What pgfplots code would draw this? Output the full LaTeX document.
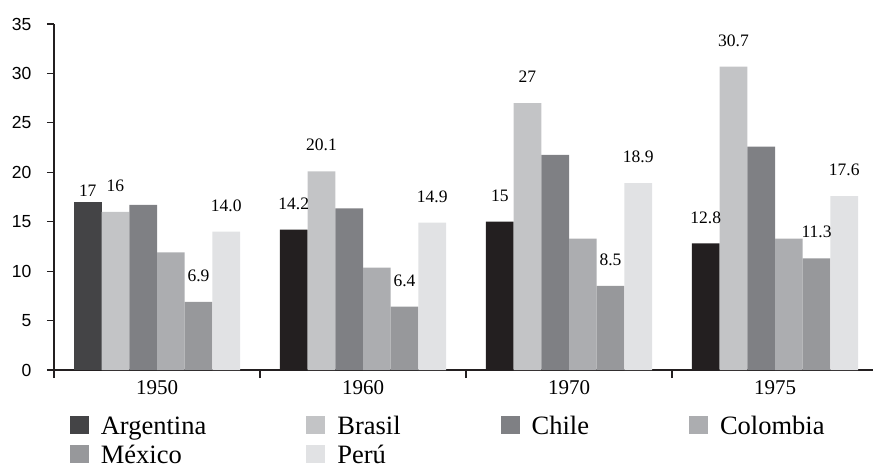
\documentclass[border=0pt]{standalone}
\usepackage{fontspec}
\setmainfont{Liberation Serif}
\newfontfamily\ticksans{Liberation Sans}
\usepackage{pgfplots}
\pgfplotsset{compat=1.18}

\definecolor{argA}{HTML}{444446}
\definecolor{argB}{HTML}{231F20}
\definecolor{bra}{HTML}{C3C4C6}
\definecolor{chi}{HTML}{7F8084}
\definecolor{col}{HTML}{ACADB0}
\definecolor{mex}{HTML}{97989B}
\definecolor{per}{HTML}{E1E2E4}
\definecolor{axisc}{HTML}{231F20}

\begin{document}
\begin{tikzpicture}
\useasboundingbox (-54pt,-96pt) rectangle (819pt,370pt);
\begin{axis}[
    scale only axis,
    width=824pt, height=346pt,
    xmin=-0.5, xmax=3.5,
    ymin=0, ymax=35,
    ybar, bar width=27.7pt,
    axis x line*=bottom, axis y line*=left,
    axis line style={draw=axisc, line width=1.4pt, -},
    xtick={0,1,2,3},
    xticklabels={1950,1960,1970,1975},
    minor xtick={-0.5,0.5,1.5,2.5,3.5},
    ytick={0,5,10,15,20,25,30,35},
    yticklabels={0,5,10,15,20,25,30,35},
    tick align=outside,
    major tick length=7pt, minor tick length=8pt,
    tick style={draw=axisc, line width=1.2pt},
    major x tick style={draw=none},
    ytick style={draw=axisc, line width=1.2pt},
    x tick label style={font=\fontsize{21}{21}\selectfont},
    y tick label style={font=\ticksans\fontsize{17.5}{17.5}\selectfont, xshift=-12pt},
    clip=false,
    every node near coord/.append style={font=\fontsize{17.5}{17.5}\selectfont, anchor=south, inner sep=0pt, yshift=20pt},
    legend columns=4,
    legend cell align=left,
    legend image code/.code={\fill[#1] (0pt,-8pt) rectangle (19pt,10pt);},
    legend style={draw=none, fill=none, at={(0.019,-0.133)}, anchor=north west,
        inner sep=0pt, font=\fontsize{26.5}{26.5}\selectfont,
        nodes={inner sep=0pt},
        row sep=9pt,
        /tikz/every odd column/.append style={column sep=12pt},
        /tikz/every even column/.append style={column sep=100pt}},
]
% Argentina 1950 drawn in a lighter shade than the later years
\addplot[fill=argA, draw=none, bar shift=-69.25pt, nodes near coords, point meta=explicit symbolic,
    every node near coord/.append style={yshift=-15pt}]
    coordinates {(0,17)[17]};
\addplot[fill=argB, draw=none, bar shift=-69.25pt, forget plot, nodes near coords, point meta=explicit symbolic]
    coordinates {(1,14.2)[14.2] (2,15)[15] (3,12.8)[12.8]};
% Brasil
\addplot[fill=bra, draw=none, bar shift=-41.55pt, nodes near coords, point meta=explicit symbolic]
    coordinates {(0,16)[16] (1,20.1)[20.1] (2,27)[27] (3,30.7)[30.7]};
% Chile (no labels)
\addplot[fill=chi, draw=none, bar shift=-13.85pt]
    coordinates {(0,16.7) (1,16.35) (2,21.75) (3,22.6)};
% Colombia (no labels)
\addplot[fill=col, draw=none, bar shift=13.85pt]
    coordinates {(0,11.9) (1,10.35) (2,13.3) (3,13.3)};
% Mexico
\addplot[fill=mex, draw=none, bar shift=41.55pt, nodes near coords, point meta=explicit symbolic]
    coordinates {(0,6.9)[6.9] (1,6.4)[6.4] (2,8.5)[8.5] (3,11.3)[11.3]};
% Peru
\addplot[fill=per, draw=none, bar shift=69.25pt, nodes near coords, point meta=explicit symbolic]
    coordinates {(0,14.0)[14.0] (1,14.9)[14.9] (2,18.9)[18.9] (3,17.6)[17.6]};
\legend{Argentina, Brasil, Chile, Colombia, México, Perú}
\end{axis}
\end{tikzpicture}
\end{document}
